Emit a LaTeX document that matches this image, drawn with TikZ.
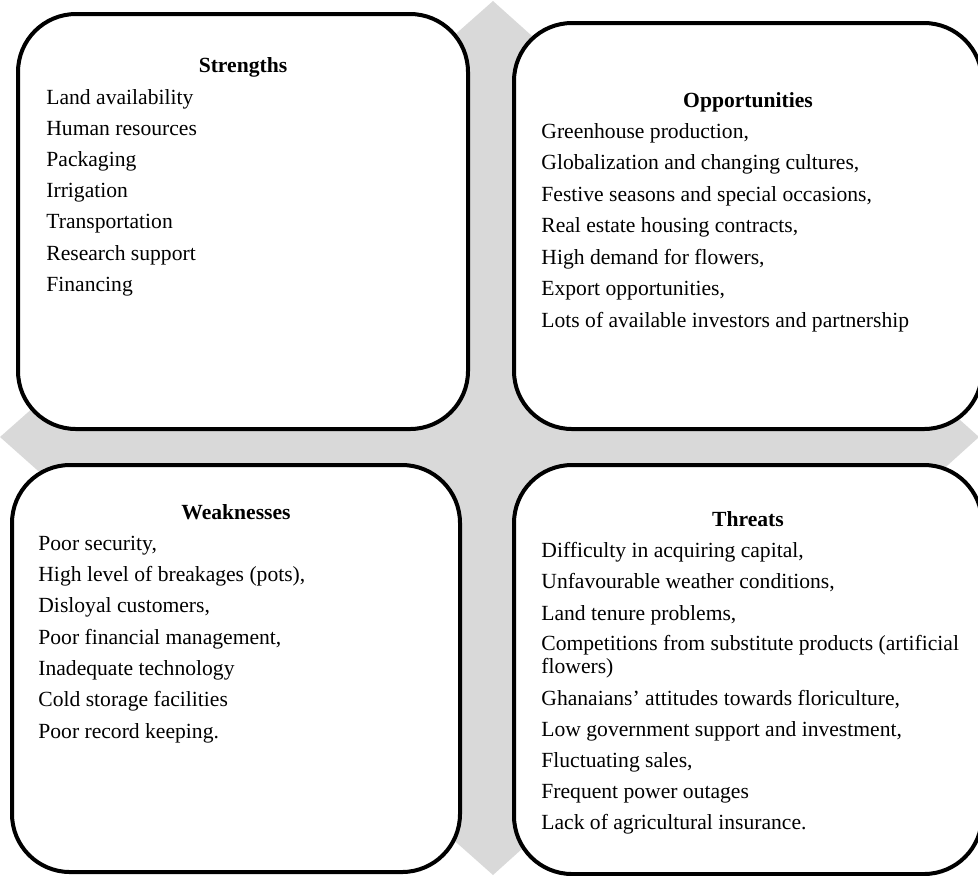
\documentclass[tikz,border=0pt]{standalone}
\usepackage{fontspec}
\setmainfont{Liberation Serif}
\usetikzlibrary{positioning}
\definecolor{diamondgray}{RGB}{217,217,217}
\tikzset{
  swotbox/.style={draw=black, fill=white, line width=2pt, rounded corners=29pt},
  head/.style={inner sep=0pt, anchor=base, font=\fontsize{10.8}{11.5}\selectfont\bfseries},
  item/.style={inner sep=0pt, anchor=base west, align=left, font=\fontsize{10.8}{11.5}\selectfont},
}

\begin{document}
\begin{tikzpicture}[x=0.5pt, y=-0.5pt]
\useasboundingbox (0,0) rectangle (978,875);
% grey diamond behind the four boxes
\fill[diamondgray] (493,1) -- (979,437) -- (493,875) -- (0,437) -- cycle;
% boxes
\draw[swotbox] (18,14)  rectangle (468,429);
\draw[swotbox] (514,23) rectangle (982,429);
\draw[swotbox] (12,465) rectangle (460,872);
\draw[swotbox] (514,465) rectangle (982,874);
% strengths
\node[head] (s-head) at (243,72) {Strengths};
\foreach \t [count=\i from 0] in {Land availability, Human resources, Packaging,
    Irrigation, Transportation, Research support, Financing}
  \node[item] (s-\i) at (46,{104+31.2*\i}) {\t};
% opportunities
\node[head] (o-head) at (748,107) {Opportunities};
\foreach \t [count=\i from 0] in {{Greenhouse production,}, {Globalization and changing cultures,},
    {Festive seasons and special occasions,}, {Real estate housing contracts,},
    {High demand for flowers,}, {Export opportunities,}, Lots of available investors and partnership}
  \node[item] (o-\i) at (541,{138+31.5*\i}) {\t};
% weaknesses
\node[head] (w-head) at (236,519) {Weaknesses};
\foreach \t [count=\i from 0] in {{Poor security,}, {High level of breakages (pots),},
    {Disloyal customers,}, {Poor financial management,}, Inadequate technology,
    Cold storage facilities, Poor record keeping.}
  \node[item] (w-\i) at (38,{550+31.33*\i}) {\t};
% threats (base of a wrapped item is its last line)
\node[head] (t-head) at (748,526) {Threats};
\foreach \y/\t [count=\i from 0] in {557/{Difficulty in acquiring capital,},
    588/{Unfavourable weather conditions,}, 620/{Land tenure problems,},
    673/{Competitions from substitute products (artificial\\flowers)},
    705/{Ghanaians’ attitudes towards floriculture,}, 736/{Low government support and investment,},
    767/{Fluctuating sales,}, 798/Frequent power outages, 829/Lack of agricultural insurance.}
  \node[item] (t-\i) at (541,\y) {\t};
\end{tikzpicture}
\end{document}
